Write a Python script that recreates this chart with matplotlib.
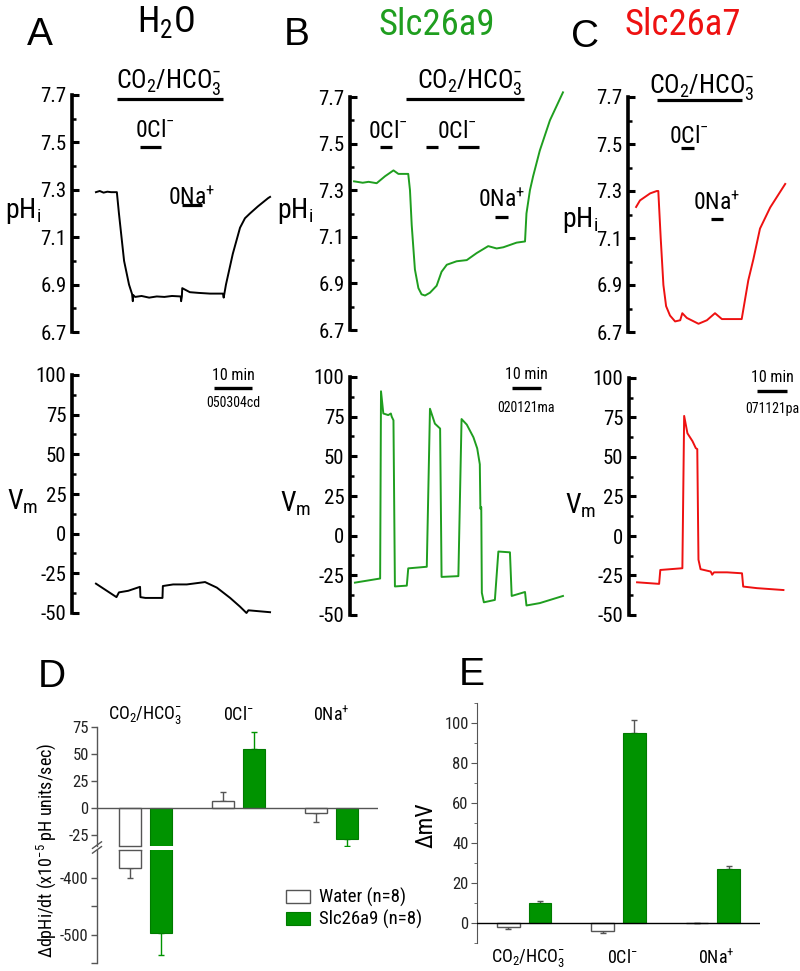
import matplotlib
matplotlib.use('Agg')
import matplotlib.pyplot as plt
from matplotlib.patches import Patch
from matplotlib.ticker import FixedLocator, MultipleLocator
from matplotlib import font_manager as fm
import numpy as np

# ---------------- DATA ----------------
# Panel A (H2O): time (min), pHi
a_ph_t = [0.0, 1.0, 2.0, 3.0, 4.0, 5.5, 6.05, 7.4, 8.7, 9.5, 9.7, 9.8, 10.3, 12, 14, 16, 18, 20, 22.3, 22.4, 22.6, 22.7, 24.7, 27, 30, 33.4, 33.6, 34.2, 36.0, 37.9, 39.2, 40.5, 42.6, 45.3, 45.8]
a_ph_v = [7.29, 7.295, 7.288, 7.292, 7.29, 7.29, 7.2, 7.0, 6.9, 6.86, 6.83, 6.856, 6.848, 6.852, 6.845, 6.85, 6.848, 6.852, 6.85, 6.83, 6.85, 6.885, 6.868, 6.865, 6.862, 6.862, 6.845, 6.9, 7.03, 7.14, 7.18, 7.2, 7.23, 7.265, 7.27]
a_vm_t = [0.0, 5.4, 6.05, 8.5, 11.6, 11.7, 13.0, 17.5, 17.6, 20.3, 23.9, 28.7, 31.8, 35.3, 37.9, 39.6, 40.1, 45.8]
a_vm_v = [-31.5, -40, -37, -36, -33.5, -40, -40.5, -40.5, -33, -32, -32, -30.5, -34, -40.5, -46, -50, -48.3, -49.5]
a_co2 = (5.5, 33.4)
a_0cl = [(11.6, 17.1)]
a_0na = (22.6, 27.9)

# Panel B (Slc26a9)
b_ph_t = [0.0, 3.0, 5.0, 7.8, 10.7, 13.6, 15.3, 18.7, 19.3, 19.9, 21.0, 22.2, 23.3, 24.5, 26.2, 28.5, 30.2, 32.0, 35.4, 38.9, 42.3, 46.3, 49.2, 51.5, 53.8, 56.1, 59.0, 59.5, 60.7, 61.8, 64.1, 67.6, 72.1]
b_ph_v = [7.338, 7.332, 7.336, 7.33, 7.36, 7.385, 7.37, 7.37, 7.3, 7.15, 6.96, 6.88, 6.853, 6.848, 6.86, 6.89, 6.95, 6.98, 6.995, 7.0, 7.03, 7.06, 7.05, 7.055, 7.065, 7.075, 7.08, 7.2, 7.3, 7.36, 7.47, 7.6, 7.72]
b_vm_t = [0.3, 9.0, 9.3, 10.1, 11.8, 12.7, 13.0, 13.6, 14.1, 18.2, 18.7, 25.1, 26.2, 27.9, 29.7, 30.2, 36.0, 37.1, 38.9, 41.2, 42.5, 43.4, 43.6, 43.9, 44.1, 44.8, 48.6, 49.8, 53.8, 54.4, 59.0, 59.5, 64.1, 72.1]
b_vm_v = [-29.6, -27, 91, 77, 76, 77, 75, 72.7, -32, -31.5, -20.6, -19.6, 80, 70.6, 67.5, -26, -25.5, 73.5, 70, 62, 55, 45, 17, 18, -36, -42, -40.5, -10, -10.5, -38, -35.5, -44, -42.5, -38]
b_co2 = (17.9, 58.6)
b_0cl = [(9.0, 13.1), (24.8, 29.0), (35.9, 43.1)]
b_0na = (48.6, 53.1)

# Panel C (Slc26a7)
c_ph_t = [0.0, 1.3, 4.7, 6.9, 7.4, 8.2, 9.1, 10.0, 11.3, 13.0, 14.7, 15.4, 16.9, 20.8, 23.6, 26.3, 28.6, 31.9, 35.2, 35.8, 37.4, 39.1, 41.3, 44.7, 49.7]
c_ph_v = [7.232, 7.26, 7.29, 7.30, 7.30, 7.1, 6.9, 6.81, 6.77, 6.745, 6.75, 6.78, 6.76, 6.735, 6.75, 6.78, 6.755, 6.755, 6.755, 6.8, 6.92, 7.01, 7.14, 7.23, 7.33]
c_vm_t = [0.0, 7.4, 7.8, 15.2, 15.8, 16.9, 18.6, 19.7, 20.2, 20.6, 21.3, 24.7, 25.2, 25.8, 30.2, 35.2, 35.6, 40.2, 49.1]
c_vm_v = [-29.3, -30.3, -21.5, -20.4, 76, 65, 60, 55.6, 55, -15, -21, -22.5, -24.5, -23, -23, -23.6, -32, -33, -34.2]
c_co2 = (7.0, 35.3)
c_0cl = [(15.0, 19.3)]
c_0na = (25.0, 29.0)

scale_min = 10
record_ids = ['050304cd', '020121ma', '071121pa']

# Panels D / E
categories = [r'CO$_2$/HCO$_3^{-}$', r'0Cl$^{-}$', r'0Na$^{+}$']
d_water = [-382, 6.5, -4.9]
d_water_err = [18, 8, 8]
d_slc = [-497, 54.6, -28.4]
d_slc_err = [38, 15.8, 6.2]
e_water = [-2.0, -3.8, 0.0]
e_water_err = [0.8, 1.2, 0.0]
e_slc = [10.0, 95.0, 27.0]
e_slc_err = [1.0, 6.5, 1.7]


# ---------------- STYLE ----------------
def pick(cands):
    for c in cands:
        try:
            fm.findfont(fm.FontProperties(family=c), fallback_to_default=False)
            return c
        except ValueError:
            pass
    return 'DejaVu Sans'


MAIN = pick(['Liberation Sans Narrow', 'Arial Narrow', 'Roboto Condensed', 'Liberation Sans', 'Arial'])
LETTER = pick(['Liberation Sans', 'Arial'])
plt.rcParams['font.family'] = [MAIN, 'DejaVu Sans']
plt.rcParams['mathtext.fontset'] = 'custom'
plt.rcParams['mathtext.rm'] = MAIN
plt.rcParams['mathtext.it'] = MAIN + ':italic'
plt.rcParams['mathtext.bf'] = MAIN + ':bold'
plt.rcParams['axes.unicode_minus'] = False

GREEN_T = '#1f9e1f'
RED_T = '#ee1111'
GREEN_B = '#009300'
GRAY = '#555555'

W, H = 800, 971
fig = plt.figure(figsize=(W / 100, H / 100), dpi=100)


def add_ax(l, t, r, b):
    return fig.add_axes([l / W, 1 - b / H, (r - l) / W, (b - t) / H])


def ftext(x, y, s, **kw):
    fig.text(x / W, 1 - y / H, s, **kw)


def style_trace(ax, xlim, ylim, major, minor, labels):
    ax.set_xlim(*xlim)
    ax.set_ylim(*ylim)
    for s in ['top', 'right', 'bottom']:
        ax.spines[s].set_visible(False)
    ax.spines['left'].set_linewidth(2.6)
    ax.set_xticks([])
    ax.yaxis.set_major_locator(FixedLocator(major))
    ax.yaxis.set_minor_locator(FixedLocator(minor))
    ax.set_yticklabels(labels)
    ax.tick_params(axis='y', which='major', direction='in', length=5, width=2.2,
                   labelsize=15, pad=4)
    ax.tick_params(axis='y', which='minor', direction='in', length=3, width=1.8)
    ax.patch.set_alpha(0)


ph_major = [6.7, 6.9, 7.1, 7.3, 7.5, 7.7]
ph_minor = [6.8, 7.0, 7.2, 7.4, 7.6]
ph_labels = ['6.7', '6.9', '7.1', '7.3', '7.5', '7.7']
vm_major = [-50, -25, 0, 25, 50, 75, 100]
vm_minor = [-37.5, -12.5, 12.5, 37.5, 62.5, 87.5]
vm_labels = ['-50', '-25', '0', '25', '50', '75', '100']


def event(ax, span, y):
    ax.plot(span, [y, y], color='k', lw=2.3, solid_capstyle='butt', clip_on=False)


panels = [
    dict(ph_box=(72, 95, 275, 332), vm_box=(72, 375, 275, 613), xlim=(-6.3, 47.1),
         ph=(a_ph_t, a_ph_v), vm=(a_vm_t, a_vm_v), color='k',
         co2=a_co2, cl=a_0cl, na=a_0na,
         co2_y=(7.683, 7.73, 19.1), cl_y=(7.481, 7.523, [15.5]), na_y=(7.234, 7.236, 25.3),
         scale=(31.05, 91.8, 96.8, 79.8), rid=record_ids[0]),
    dict(ph_box=(350, 97, 565, 330), vm_box=(350, 377, 565, 615), xlim=(-1.4, 72.8),
         ph=(b_ph_t, b_ph_v), vm=(b_vm_t, b_vm_v), color=GREEN_T,
         co2=b_co2, cl=b_0cl, na=b_0na,
         co2_y=(7.691, 7.739, 40.0), cl_y=(7.485, 7.524, [11.7, 35.5]), na_y=(7.185, 7.228, 51.1),
         scale=(54.5, 93.1, 98.7, 78.0), rid=record_ids[1]),
    dict(ph_box=(628, 97, 790, 332), vm_box=(629, 378, 790, 615), xlim=(-2.7, 51.3),
         ph=(c_ph_t, c_ph_v), vm=(c_vm_t, c_vm_v), color=RED_T,
         co2=c_co2, cl=c_0cl, na=c_0na,
         co2_y=(7.687, 7.717, 22.0), cl_y=(7.483, 7.504, [17.7]), na_y=(7.181, 7.219, 26.7),
         scale=(40.3, 91.8, 97.5, 77.8), rid=record_ids[2]),
]

for p in panels:
    axp = add_ax(*p['ph_box'])
    style_trace(axp, p['xlim'], (6.7, 7.7), ph_major, ph_minor, ph_labels)
    axp.plot(*p['ph'], color=p['color'], lw=1.4, clip_on=False)
    event(axp, p['co2'], p['co2_y'][0])
    axp.text(p['co2_y'][2], p['co2_y'][1], r'CO$_2$/HCO$_3^{-}$', ha='center', va='baseline', fontsize=18.5)
    for span in p['cl']:
        event(axp, span, p['cl_y'][0])
    for xc in p['cl_y'][2]:
        axp.text(xc, p['cl_y'][1], r'0Cl$^{-}$', ha='center', va='baseline', fontsize=17)
    event(axp, p['na'], p['na_y'][0])
    axp.text(p['na_y'][2], p['na_y'][1], r'0Na$^{+}$', ha='center', va='baseline', fontsize=17)

    axv = add_ax(*p['vm_box'])
    style_trace(axv, p['xlim'], (-50, 100), vm_major, vm_minor, vm_labels)
    axv.plot(*p['vm'], color=p['color'], lw=1.4, clip_on=False)
    x0, yb, yt, yi = p['scale']
    axv.plot([x0, x0 + scale_min], [yb, yb], color='k', lw=2.4, solid_capstyle='butt', clip_on=False)
    axv.text(x0 + scale_min / 2, yt, f'{scale_min} min', ha='center', va='baseline', fontsize=11.5)
    axv.text(x0 + scale_min / 2, yi, p['rid'], ha='center', va='baseline', fontsize=10)

# panel letters and titles
for x, y, s in [(40, 45, 'A'), (297, 45, 'B'), (585, 47, 'C'), (52, 687, 'D'), (472, 685, 'E')]:
    ftext(x, y, s, ha='center', va='baseline', fontsize=28, family=[LETTER, 'DejaVu Sans'])
ftext(166, 32, r'H$_2$O', ha='center', va='baseline', fontsize=26)
ftext(437, 35, 'Slc26a9', ha='center', va='baseline', fontsize=26.5, color=GREEN_T)
ftext(683, 35, 'Slc26a7', ha='center', va='baseline', fontsize=26.5, color=RED_T)

# y labels of the traces
for x, y in [(5, 218), (277, 218), (562, 227)]:
    ftext(x, y, r'pH$_\mathrm{i}$', ha='left', va='baseline', fontsize=20)
for x, y in [(7, 510), (280, 512), (565, 513)]:
    ftext(x, y, r'V$_\mathrm{m}$', ha='left', va='baseline', fontsize=20)

# ---------------- PANEL D ----------------
xpos = np.arange(len(categories))
off, bw = 0.167, 0.24
axU = add_ax(97, 727, 378, 846)
axL = add_ax(97, 850, 378, 963)


def yerr_one_sided(vals, errs):
    lo = [e if v < 0 else 0 for v, e in zip(vals, errs)]
    hi = [e if v >= 0 else 0 for v, e in zip(vals, errs)]
    return [lo, hi]


for ax, ylim in [(axU, (-35, 75)), (axL, (-550, -350))]:
    ax.set_xlim(-0.52, 2.5)
    ax.set_ylim(*ylim)
    for s in ['top', 'right', 'bottom']:
        ax.spines[s].set_visible(False)
    ax.spines['left'].set_color(GRAY)
    ax.spines['left'].set_linewidth(1.0)
    ax.set_xticks([])
    ax.bar(xpos - off, d_water, bw, color='white', edgecolor=GRAY, lw=1.0, zorder=2)
    ax.bar(xpos + off, d_slc, bw, color=GREEN_B, edgecolor='#007a00', lw=0.8, zorder=2)
    ax.errorbar(xpos - off, d_water, yerr=yerr_one_sided(d_water, d_water_err), fmt='none',
                ecolor=GRAY, elinewidth=1.0, capsize=2.5, capthick=1.0, zorder=1)
    ax.errorbar(xpos + off, d_slc, yerr=yerr_one_sided(d_slc, d_slc_err), fmt='none',
                ecolor=GREEN_B, elinewidth=1.0, capsize=2.5, capthick=1.0, zorder=1)
    ax.tick_params(axis='y', which='both', direction='out', color=GRAY, width=1.0,
                   labelsize=12, pad=2, labelcolor='#222222')
    ax.tick_params(axis='y', which='major', length=4)
    ax.tick_params(axis='y', which='minor', length=4)
    ax.patch.set_alpha(0)

# closing edges of broken bars
for xc, v in zip(xpos - off, d_water):
    if v < -35:
        axU.plot([xc - bw / 2, xc + bw / 2], [-35, -35], color=GRAY, lw=1.0, clip_on=False, zorder=3)
    if v < -350:
        axL.plot([xc - bw / 2, xc + bw / 2], [-350, -350], color=GRAY, lw=1.0, clip_on=False, zorder=3)

axU.axhline(0, color=GRAY, lw=1.0, zorder=3)
axU.yaxis.set_major_locator(FixedLocator([-25, 0, 25, 50, 75]))
axU.set_yticklabels(['-25', '0', '25', '50', '75'])
axL.yaxis.set_major_locator(FixedLocator([-500, -400]))
axL.set_yticklabels(['-500', '-400'])
axL.yaxis.set_minor_locator(FixedLocator([-550, -450]))

for i, lab in enumerate(categories):
    axU.text(i, 86, lab, ha='center', va='center', fontsize=13, clip_on=False)

# break marks
kw = dict(transform=axU.transAxes, color=GRAY, lw=1.0, clip_on=False)
axU.plot([-0.016, 0.016], [-0.02, 0.035], **kw)
axU.plot([-0.016, 0.016], [-0.06, -0.005], **kw)

ftext(46, 850, r'ΔdpHi/dt (x10$^{-5}$ pH units/sec)', rotation=90, ha='center', va='center', fontsize=13)

fig.legend(handles=[Patch(facecolor='white', edgecolor=GRAY, lw=1.0),
                    Patch(facecolor=GREEN_B, edgecolor='#007a00', lw=0.8)],
           labels=['Water (n=8)', 'Slc26a9 (n=8)'],
           loc='upper left', bbox_to_anchor=(286 / W, 1 - 888 / H), frameon=False,
           fontsize=13.5, handlelength=1.3, handleheight=0.7, handletextpad=0.45,
           labelspacing=0.15, borderpad=0, borderaxespad=0)

# ---------------- PANEL E ----------------
axE = add_ax(477, 703, 760, 943)
axE.set_xlim(-0.5, 2.5)
axE.set_ylim(-10, 110)
for s in ['top', 'right', 'bottom']:
    axE.spines[s].set_visible(False)
axE.spines['left'].set_color(GRAY)
axE.set_xticks([])
axE.bar(xpos - off, e_water, bw, color='white', edgecolor=GRAY, lw=1.0, zorder=2)
axE.bar(xpos + off, e_slc, bw, color=GREEN_B, edgecolor='#007a00', lw=0.8, zorder=2)
axE.errorbar(xpos - off, e_water, yerr=yerr_one_sided(e_water, e_water_err), fmt='none',
             ecolor=GRAY, elinewidth=1.0, capsize=2.5, capthick=1.0, zorder=1)
axE.errorbar(xpos + off, e_slc, yerr=yerr_one_sided(e_slc, e_slc_err), fmt='none',
             ecolor=GRAY, elinewidth=1.0, capsize=2.5, capthick=1.0, zorder=1)
axE.axhline(0, color='k', lw=1.0, zorder=3)
axE.yaxis.set_minor_locator(MultipleLocator(10))
axE.set_yticks([0, 20, 40, 60, 80, 100])
axE.set_yticklabels(['0', '20', '40', '60', '80', '100'])
axE.tick_params(axis='y', which='major', direction='out', length=4, color=GRAY, labelsize=12,
                pad=2, labelcolor='#222222')
axE.tick_params(axis='y', which='minor', direction='out', length=2.5, color=GRAY)
axE.patch.set_alpha(0)
for i, lab in enumerate(categories):
    axE.text(i + 0.04, -17.5, lab, ha='center', va='center', fontsize=13, clip_on=False)
ftext(426, 825, 'ΔmV', rotation=90, ha='center', va='center', fontsize=17)

fig.savefig('out.png', dpi=100)
